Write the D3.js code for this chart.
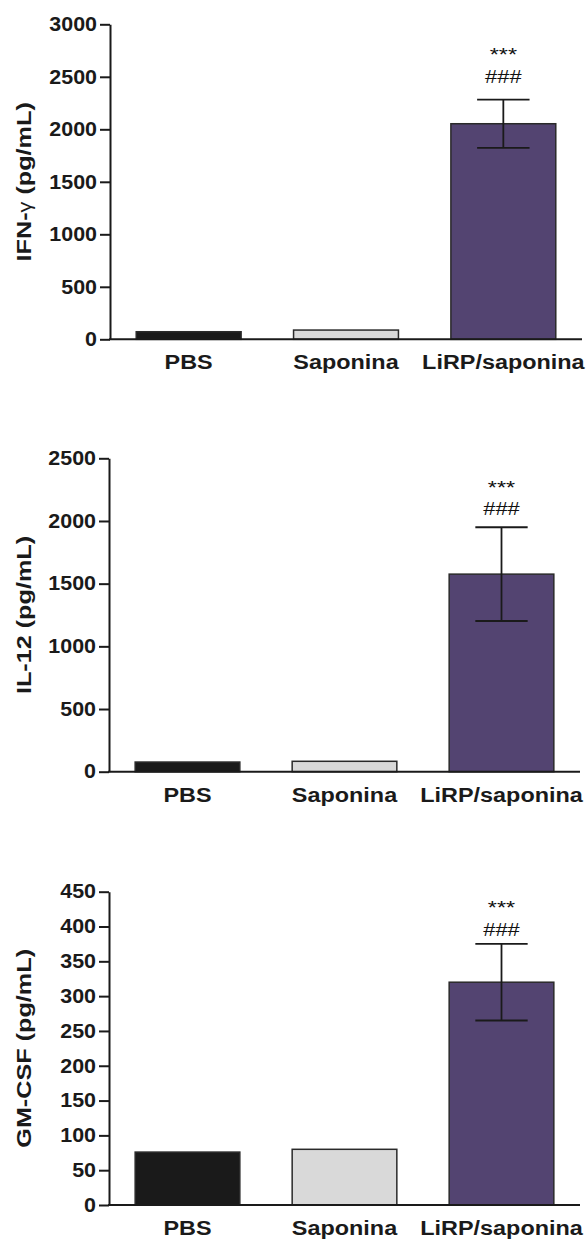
<!DOCTYPE html>
<html>
<head>
<meta charset="utf-8">
<script src="https://cdn.jsdelivr.net/npm/d3@7"></script>
<style>
  body { margin: 0; background: #fff; }
  text { font-family: "Liberation Sans", Arial, sans-serif; fill: #1a1a1a; }
</style>
</head>
<body>
<script>
// groups on the x axis
const groups = ['PBS', 'Saponina', 'LiRP/saponina'];
const barColors = ['#1a1a1a', '#d9d9d9', '#534471'];

// IFN-gamma
const ifnMeans = [72, 88, 2053];
const ifnErrors = [0, 0, 229];
const ifnTicks = [0, 500, 1000, 1500, 2000, 2500, 3000];

// IL-12
const il12Means = [77, 83, 1576];
const il12Errors = [0, 0, 374];
const il12Ticks = [0, 500, 1000, 1500, 2000, 2500];

// GM-CSF
const gmMeans = [76, 80, 320];
const gmErrors = [0, 0, 55];
const gmTicks = [0, 50, 100, 150, 200, 250, 300, 350, 400, 450];

const starMarks = ['', '', '***'];
const hashMarks = ['', '', '###'];

const panels = [
  { name: 'IFN', unit: ' (pg/mL)', means: ifnMeans, errors: ifnErrors, ticks: ifnTicks,
    top: 24.3, zero: 339.3, left: 110, right: 582, hashGap: 24 },
  { name: 'IL-12', unit: ' (pg/mL)', means: il12Means, errors: il12Errors, ticks: il12Ticks,
    top: 458.3, zero: 771.7, left: 109, right: 580, hashGap: 19 },
  { name: 'GM-CSF', unit: ' (pg/mL)', means: gmMeans, errors: gmErrors, ticks: gmTicks,
    top: 891.7, zero: 1205, left: 109, right: 580, hashGap: 15 }
];

const svg = d3.select('body').append('svg')
  .attr('width', 588)
  .attr('height', 1243);

// widen text the way the original figure font is set
function stretch(sel, k, mode) {
  sel.each(function () {
    const w = this.getComputedTextLength();
    d3.select(this)
      .attr('textLength', w * k)
      .attr('lengthAdjust', mode || 'spacingAndGlyphs');
  });
}

function drawPanel(p) {
  const g = svg.append('g');

  const x = d3.scaleBand()
    .domain(groups)
    .range([p.left, p.right])
    .paddingInner(1 / 3)
    .paddingOuter(1 / 6);

  const y = d3.scaleLinear()
    .domain([0, p.ticks[p.ticks.length - 1]])
    .range([p.zero, p.top]);

  const rows = groups.map((k, i) => ({ group: k, mean: p.means[i], err: p.errors[i],
    color: barColors[i], star: starMarks[i], hash: hashMarks[i] }));

  // bars
  g.selectAll('rect.bar')
    .data(rows)
    .enter().append('rect')
    .attr('class', 'bar')
    .attr('x', d => x(d.group))
    .attr('width', x.bandwidth())
    .attr('y', d => y(d.mean))
    .attr('height', d => y(0) - y(d.mean))
    .attr('fill', d => d.color)
    .attr('stroke', '#2a2a2a')
    .attr('stroke-width', 1.5);

  // error bars
  const withErr = rows.filter(d => d.err > 0);
  const capHalf = x.bandwidth() * 0.25;
  const cx = d => x(d.group) + x.bandwidth() / 2;
  const eb = g.selectAll('g.err')
    .data(withErr)
    .enter().append('g')
    .attr('class', 'err')
    .attr('stroke', '#1a1a1a')
    .attr('stroke-width', 1.8);
  eb.append('line')
    .attr('x1', cx)
    .attr('x2', cx)
    .attr('y1', d => y(d.mean - d.err))
    .attr('y2', d => y(d.mean + d.err));
  eb.append('line')
    .attr('x1', d => cx(d) - capHalf)
    .attr('x2', d => cx(d) + capHalf)
    .attr('y1', d => y(d.mean + d.err))
    .attr('y2', d => y(d.mean + d.err));
  eb.append('line')
    .attr('x1', d => cx(d) - capHalf)
    .attr('x2', d => cx(d) + capHalf)
    .attr('y1', d => y(d.mean - d.err))
    .attr('y2', d => y(d.mean - d.err));

  // significance marks
  const hashText = g.selectAll('text.hash')
    .data(rows.filter(d => d.hash))
    .enter().append('text')
    .attr('class', 'hash')
    .attr('x', cx)
    .attr('y', d => y(d.mean + d.err) - p.hashGap + 7)
    .attr('text-anchor', 'middle')
    .style('font-size', '19px')
    .style('fill', '#111')
    .text(d => d.hash);
  const starText = g.selectAll('text.star')
    .data(rows.filter(d => d.star))
    .enter().append('text')
    .attr('class', 'star')
    .attr('x', cx)
    .attr('y', d => y(d.mean + d.err) - p.hashGap + 7 - 21.5)
    .attr('text-anchor', 'middle')
    .style('font-size', '18px')
    .style('fill', '#111')
    .text(d => d.star);

  // y axis
  const yAxis = g.append('g')
    .attr('transform', `translate(${p.left}, 0)`)
    .call(d3.axisLeft(y).tickValues(p.ticks).tickFormat(d3.format('d'))
      .tickSize(10).tickSizeOuter(0).tickPadding(3));
  yAxis.attr('font-family', null).attr('font-size', null);
  yAxis.select('.domain').attr('stroke', '#1a1a1a').attr('stroke-width', 2);
  yAxis.selectAll('.tick line').attr('stroke', '#1a1a1a').attr('stroke-width', 2);
  const yTickText = yAxis.selectAll('.tick text')
    .style('font-size', '19.5px')
    .style('font-weight', 'bold');

  // x axis
  const xAxis = g.append('g')
    .attr('transform', `translate(0, ${p.zero})`)
    .call(d3.axisBottom(x).tickSize(0).tickSizeOuter(0).tickPadding(16));
  xAxis.attr('font-family', null).attr('font-size', null);
  xAxis.select('.domain').attr('stroke', '#1a1a1a').attr('stroke-width', 2)
    .attr('d', `M${p.left - 1},0H${p.right}`);
  const xTickText = xAxis.selectAll('.tick text')
    .style('font-size', '19.5px')
    .style('font-weight', 'bold');

  // y label
  const yl = g.append('text')
    .attr('transform', `translate(31, ${(p.top + p.zero) / 2}) rotate(-90)`)
    .attr('text-anchor', 'middle')
    .style('font-size', '21px')
    .style('font-weight', 'bold');
  if (p.name === 'IFN') {
    yl.append('tspan').text('IFN-');
    yl.append('tspan').style('font-weight', 'normal').style('font-size', '18px').text('\u03b3');
    yl.append('tspan').text(' ' + p.unit);
  } else {
    yl.append('tspan').text(p.name + p.unit);
  }

  stretch(yTickText, 1.1);
  stretch(xTickText, 1.2);
  stretch(yl, 1.2);
  stretch(hashText, 1.15);
  stretch(starText, 1.3);
}

panels.forEach(drawPanel);
</script>
</body>
</html>
